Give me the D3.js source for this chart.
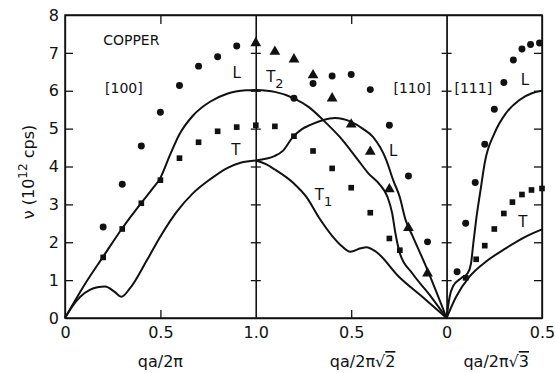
<!DOCTYPE html>
<html>
<head>
<meta charset="UTF-8">
<title>Copper dispersion</title>
<style>
    body { margin: 0; background: #fff; }
    text { font-family: "DejaVu Sans", sans-serif; fill: #111; }
    .tick text { font-size: 16px; }
    .curve { fill: none; stroke: #111; stroke-width: 2; }
    .frame { fill: none; stroke: #111; stroke-width: 1.5; }
    .domain, .tick line { stroke: #111; stroke-width: 1.3; }
</style>
<script src="https://d3js.org/d3.v7.min.js"></script>
</head>
<body>
<div id="chart"></div>
<script>
// panels along the horizontal axis: [100] q 0..1, [110] q 1..0, [111] q 0..0.5
const panelStart = [0, 2, 2];
const panelDir = [1, -1, 1];

// x ticks (position along path) and their printed labels
const xTickPos = [0, 0.5, 1, 1.5, 2, 2.5];
const xTickLabels = ["0", "0.5", "1.0", "0.5", "0", "0.5"];
const yTicks = [0, 1, 2, 3, 4, 5, 6, 7, 8];

// measured points [q, nu]
const l100 = [[0.2, 2.40], [0.3, 3.53], [0.4, 4.54], [0.5, 5.43], [0.6, 6.14], [0.7, 6.65], [0.8, 6.90], [0.9, 7.18]];
const t100 = [[0.2, 1.60], [0.3, 2.35], [0.4, 3.03], [0.5, 3.64], [0.6, 4.22], [0.7, 4.64], [0.8, 4.93], [0.9, 5.04], [1.0, 5.09]];
const t2110 = [[1.0, 7.26], [0.9, 7.03], [0.8, 6.83], [0.7, 6.41], [0.6, 5.80], [0.5, 5.11], [0.4, 4.39], [0.3, 3.40], [0.2, 2.38], [0.1, 1.18]];
const l110 = [[0.8, 5.80], [0.7, 6.19], [0.6, 6.39], [0.5, 6.43], [0.4, 6.03], [0.3, 5.09], [0.2, 3.75], [0.1, 2.01]];
const t1110 = [[0.9, 5.06], [0.8, 4.80], [0.7, 4.41], [0.6, 3.95], [0.5, 3.44], [0.4, 2.78], [0.3, 2.10], [0.245, 1.79]];
const l111 = [[0.055, 1.22], [0.1, 2.50], [0.15, 3.58], [0.2, 4.59], [0.25, 5.51], [0.3, 6.22], [0.35, 6.81], [0.395, 7.10], [0.44, 7.22], [0.487, 7.26]];
const t111 = [[0.1, 1.06], [0.155, 1.55], [0.2, 1.91], [0.25, 2.35], [0.3, 2.76], [0.345, 3.06], [0.395, 3.26], [0.445, 3.38], [0.5, 3.42]];

// theoretical curves [q, nu]
const c100L = [[0, 0], [0.1, 0.86], [0.2, 1.62], [0.3, 2.37], [0.4, 3.04], [0.46, 3.42], [0.5, 3.70], [0.55, 4.30], [0.6, 4.85], [0.67, 5.34], [0.76, 5.71], [0.85, 5.92], [0.95, 6.01], [1.0, 6.02]];
const c100T = [[0, 0], [0.04, 0.32], [0.08, 0.56], [0.13, 0.74], [0.17, 0.81], [0.21, 0.83], [0.26, 0.69], [0.295, 0.56], [0.34, 0.78], [0.43, 1.53], [0.5, 2.15], [0.585, 2.80], [0.67, 3.29], [0.76, 3.66], [0.85, 3.96], [0.92, 4.10], [1.0, 4.16]];
const c110A = [[1.0, 6.02], [0.9, 5.97], [0.8, 5.80], [0.72, 5.56], [0.65, 5.24], [0.56, 4.78], [0.47, 4.21], [0.41, 3.82], [0.35, 3.52], [0.31, 3.20], [0.285, 2.76], [0.268, 2.23], [0.245, 1.71], [0.18, 1.18], [0.09, 0.62], [0, 0]];
const c110B = [[1.0, 4.16], [0.9, 4.28], [0.857, 4.42], [0.81, 4.75], [0.76, 4.98], [0.717, 5.09], [0.65, 5.22], [0.586, 5.28], [0.5, 5.18], [0.44, 5.0], [0.386, 4.78], [0.316, 4.17], [0.28, 3.64], [0.246, 3.20], [0.215, 2.59], [0.177, 2.15], [0.107, 1.35], [0, 0]];
const c110T1 = [[1.0, 4.16], [0.95, 4.07], [0.9, 3.92], [0.8, 3.55], [0.735, 3.20], [0.665, 2.62], [0.6, 2.17], [0.55, 1.90], [0.505, 1.75], [0.45, 1.84], [0.42, 1.87], [0.37, 1.75], [0.25, 1.09], [0.12, 0.53], [0, 0]];
const c111L = [[0, 0], [0.016, 0.56], [0.033, 0.83], [0.076, 1.05], [0.11, 1.18], [0.128, 1.44], [0.14, 1.97], [0.155, 2.6], [0.18, 3.45], [0.2, 4.1], [0.25, 4.87], [0.31, 5.40], [0.38, 5.75], [0.45, 5.94], [0.5, 6.0]];
const c111T = [[0, 0], [0.05, 0.56], [0.12, 1.09], [0.207, 1.49], [0.31, 1.84], [0.415, 2.15], [0.5, 2.34]];

const margin = {top: 15, right: 13, bottom: 55, left: 65};
const W = 555, H = 373;
const width = W - margin.left - margin.right;
const height = H - margin.top - margin.bottom;

const svg = d3.select("#chart").append("svg")
    .attr("width", W).attr("height", H);
const g = svg.append("g").attr("transform", `translate(${margin.left},${margin.top})`);

const x = d3.scaleLinear().domain([0, 2.5]).range([0, width]);
const y = d3.scaleLinear().domain([0, 8]).range([height, 0]);
const pos = (panel, q) => panelStart[panel] + panelDir[panel] * q;

// axes
g.append("g")
    .attr("transform", `translate(0,${height})`)
    .call(d3.axisBottom(x).tickValues(xTickPos).tickSizeInner(-8).tickSizeOuter(0).tickPadding(9)
        .tickFormat((d, i) => xTickLabels[i]))
    .call(s => s.selectAll(".tick line").filter(d => d === 0 || d === 1 || d === 2 || d === 2.5).remove());
g.append("g")
    .call(d3.axisTop(x).tickValues([0.5, 1.5]).tickSizeInner(-9).tickSizeOuter(0).tickFormat(""));
g.append("g")
    .call(d3.axisLeft(y).tickValues(yTicks).tickSizeInner(-8).tickSizeOuter(0).tickPadding(6))
    .call(s => s.selectAll(".tick line").filter(d => d === 0 || d === 8).remove());
g.append("g")
    .attr("transform", `translate(${width},0)`)
    .call(d3.axisRight(y).tickValues(yTicks.slice(1, 8)).tickSizeInner(-8).tickSizeOuter(0).tickFormat(""));
[1, 2].forEach(p => {
    g.append("g").attr("transform", `translate(${x(p)},0)`)
        .call(d3.axisLeft(y).tickValues(yTicks.slice(1, 8)).tickSizeInner(5).tickSizeOuter(0).tickFormat(""));
    g.append("g").attr("transform", `translate(${x(p)},0)`)
        .call(d3.axisRight(y).tickValues(yTicks.slice(1, 8)).tickSizeInner(5).tickSizeOuter(0).tickFormat(""));
});
g.append("rect").attr("class", "frame").attr("width", width).attr("height", height);

// curves
const line = d3.line().x(d => x(d[0])).y(d => y(d[1])).curve(d3.curveMonotoneX);
const curves = [[0, c100L], [0, c100T], [1, c110A], [1, c110B], [1, c110T1], [2, c111L], [2, c111T]];
curves.forEach(([panel, pts]) => {
    const xy = pts.map(d => [pos(panel, d[0]), d[1]]).sort((a, b) => a[0] - b[0]);
    g.append("path").attr("class", "curve").attr("d", line(xy));
});

// measured points
function plot(panel, pts, shape) {
    const sel = g.append("g").selectAll("path").data(pts).join("path")
        .attr("transform", d => `translate(${x(pos(panel, d[0]))},${y(d[1])})`)
        .attr("fill", "#111");
    if (shape === "circle") sel.attr("d", d3.symbol(d3.symbolCircle, 38));
    if (shape === "square") sel.attr("d", d3.symbol(d3.symbolSquare, 32));
    if (shape === "triangle") sel.attr("d", d3.symbol(d3.symbolTriangle, 50));
}
plot(0, l100, "circle");
plot(0, t100, "square");
plot(1, t2110, "triangle");
plot(1, l110, "circle");
plot(1, t1110, "square");
plot(2, l111, "circle");
plot(2, t111, "square");

// labels inside the plot
function label(p, v, txt, size, anchor, sub) {
    const t = g.append("text").attr("x", x(p)).attr("y", y(v))
        .attr("text-anchor", anchor || "middle").style("font-size", size + "px").text(txt);
    if (sub) t.append("tspan").attr("dy", 6).style("font-size", (size - 2) + "px").text(sub);
}
label(0.2, 7.2, "COPPER", 14, "start");
label(0.21, 5.94, "[100]", 14, "start");
label(0.9, 6.33, "L", 15);
label(0.895, 4.30, "T", 15);
label(1.1, 6.23, "T", 15, "middle", "2");
label(1.82, 5.94, "[110]", 14);
label(1.72, 4.27, "L", 15);
label(1.355, 3.11, "T", 15, "middle", "1");
label(2.14, 5.94, "[111]", 14);
label(2.41, 6.15, "L", 15);
label(2.40, 2.40, "T", 15);

// axis titles
const xt = svg.append("g").style("font-size", "16px").attr("text-anchor", "middle");
xt.append("text").attr("x", margin.left + x(0.5)).attr("y", 367).text("qa/2π");
const t2 = xt.append("text").attr("x", margin.left + x(1.56)).attr("y", 367).text("qa/2π√");
t2.append("tspan").style("text-decoration", "overline").text("2");
const t3 = xt.append("text").attr("x", margin.left + x(2.26)).attr("y", 367).text("qa/2π√");
t3.append("tspan").style("text-decoration", "overline").text("3");

const yt = svg.append("text").attr("transform", "translate(34,172) rotate(-90)")
    .attr("text-anchor", "middle").style("font-size", "16px").text("ν (10");
yt.append("tspan").attr("dy", -7).style("font-size", "12px").text("12");
yt.append("tspan").attr("dy", 7).text(" cps)");
</script>
</body>
</html>
